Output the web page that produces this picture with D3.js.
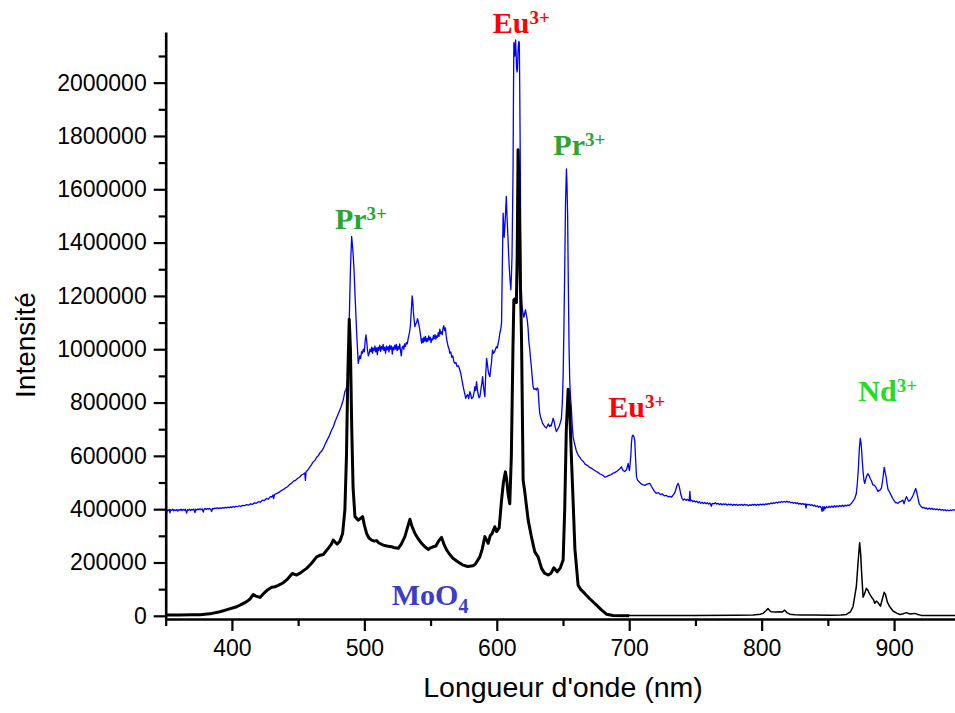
<!DOCTYPE html>
<html><head><meta charset="utf-8">
<script src="https://cdn.jsdelivr.net/npm/d3@7/dist/d3.min.js"></script>
<style>body{margin:0;background:#fff}svg{display:block}</style>
</head><body>
<svg id="chart" width="955" height="713"></svg>
<script>
// ---------- data (wavelength nm, intensity) ----------
const blueSpectrum = [[350,398000],[350.6,384000],[351.2,397000],[352,395000],[352.8,399000],[353.2,386000],[353.7,398000],[354.5,396000],[355.3,400000],[356,394000],[356.8,398000],[357.6,395000],[358.4,399000],[359.2,393000],[360,398000],[360.8,396000],[361.6,400000],[362.4,395000],[363.2,399000],[364,396000],[364.8,400000],[365.8,385000],[366.4,398000],[367.2,396000],[368,400000],[368.8,395000],[369.6,399000],[370.4,397000],[371.2,401000],[372.1,387000],[372.7,400000],[373.5,397000],[374.3,401000],[375.1,398000],[375.9,402000],[376.7,398000],[377.5,401000],[378.4,389000],[379,400000],[379.8,403000],[380.6,399000],[381.4,402000],[382.2,400000],[383,403000],[383.8,400000],[384.7,391000],[385.3,403000],[386.2,401000],[387,404000],[388,402000],[389,405000],[390,402000],[391,405000],[392,403000],[393,406000],[394,404000],[395,407000],[396,405000],[397,408000],[398,405000],[399,409000],[400,406000],[401,410000],[402,407000],[403,411000],[404,409000],[405.5,413000],[406.5,410000],[408,414000],[409.5,413000],[411,417000],[412.5,415000],[414,420000],[415.5,418000],[417,424000],[418.5,422000],[420,428000],[421.5,426000],[423,434000],[424.5,432000],[426,440000],[427.5,438000],[429,447000],[430,445000],[431,453000],[431.5,440000],[432.1,455000],[433,457000],[434.5,460000],[436,465000],[437.5,470000],[439,474000],[440.5,480000],[442,484000],[443.5,492000],[445,497000],[446.5,505000],[448,508000],[449.5,515000],[451,520000],[452.5,528000],[454,532000],[455,536000],[455.5,508000],[456,540000],[457,545000],[458.5,556000],[460,566000],[461.4,578000],[462.8,584000],[464,595000],[465.2,600000],[466.5,612000],[467.8,618000],[469,628000],[470.5,645000],[472,660000],[473.5,675000],[475.3,697000],[476.5,708000],[478,730000],[479.7,750000],[481.5,772000],[482.5,785000],[483.5,800000],[484.5,820000],[485.3,841000],[486.2,850000],[487,870000],[487.8,900000],[488.6,1110000],[489.5,1300000],[490.4,1423000],[491.2,1380000],[492.1,1310000],[493,1200000],[494.2,1061000],[495.4,947000],[496.5,975000],[497.2,965000],[497.9,991000],[498.6,985000],[499.2,1000000],[500,990000],[500.6,1030000],[501.2,1054000],[501.8,1030000],[502.3,1000000],[503,975000],[503.7,985000],[504.3,1000000],[505,990000],[505.6,1008000],[506.2,985000],[506.7,1004000],[507.3,995000],[508,1012000],[508.6,990000],[509.2,1005000],[509.8,980000],[510.4,1008000],[511,996000],[511.7,1015000],[512.3,992000],[513,1010000],[513.6,1000000],[514.2,1018000],[514.8,995000],[515.4,1008000],[516,985000],[516.7,1012000],[517.3,998000],[518,1010000],[518.6,990000],[519.2,1015000],[519.8,1000000],[520.5,1012000],[521.1,982000],[521.7,1008000],[522.3,998000],[523,1015000],[523.6,1000000],[524.2,1018000],[524.8,995000],[525.5,1010000],[526.1,1000000],[526.7,1020000],[527.3,995000],[527.9,975000],[528.5,1005000],[529.2,1012000],[529.8,1000000],[530.4,1020000],[531,1010000],[531.7,1025000],[532.4,1020000],[533.1,1040000],[534,1060000],[534.8,1090000],[535.5,1150000],[536.1,1200000],[536.6,1180000],[537,1140000],[537.6,1110000],[538.2,1085000],[538.8,1095000],[539.5,1100000],[540.1,1115000],[540.7,1105000],[541.2,1090000],[541.8,1075000],[542.5,1050000],[543.2,1023000],[543.8,1040000],[544.4,1025000],[545,1045000],[545.6,1030000],[546.2,1048000],[546.8,1028000],[547.4,1040000],[548,1030000],[548.6,1050000],[549.2,1035000],[549.8,1045000],[550.4,1025000],[551,1040000],[551.6,1035000],[552.2,1052000],[552.8,1040000],[553.4,1055000],[554,1038000],[554.6,1050000],[555.2,1045000],[555.8,1062000],[556.4,1048000],[557,1075000],[557.6,1058000],[558.2,1065000],[558.8,1055000],[559.4,1080000],[560,1088000],[560.6,1070000],[561.2,1080000],[561.8,1050000],[562.4,1030000],[563.3,1010000],[564,1000000],[564.5,985000],[565.2,990000],[566,970000],[566.8,975000],[567.5,955000],[568.3,947000],[569.2,950000],[570,935000],[571,938000],[572.1,922000],[572.8,910000],[573.5,890000],[574.1,875000],[574.6,860000],[575.5,840000],[576.6,816000],[577.2,825000],[578,830000],[578.8,815000],[579.7,841000],[580.4,830000],[581,815000],[581.6,818000],[582.2,822000],[582.9,840000],[583.5,860000],[584.1,845000],[584.7,878000],[585.3,850000],[586,830000],[586.6,818000],[587.2,822000],[587.8,840000],[588.3,860000],[588.8,875000],[589.3,897000],[589.8,870000],[590.2,850000],[590.6,835000],[591,822000],[591.6,900000],[592.3,966000],[592.9,945000],[593.5,920000],[594.1,905000],[594.8,897000],[595.4,925000],[596,950000],[596.4,975000],[596.8,997000],[597.5,985000],[598.3,990000],[599,1000000],[599.8,1010000],[600.4,1005000],[601,1020000],[601.6,1035000],[602.3,1060000],[603,1075000],[603.6,1100000],[604,1250000],[604.3,1350000],[604.8,1510000],[605.2,1460000],[605.6,1420000],[606.3,1480000],[606.8,1530000],[607.2,1573000],[607.7,1500000],[608.3,1435000],[609,1350000],[609.5,1300000],[610,1260000],[610.6,1223000],[611.1,1280000],[611.5,1350000],[612,1550000],[612.3,1685000],[612.6,1950000],[612.9,2150000],[613.2,2130000],[613.6,2100000],[613.9,2140000],[614.2,2160000],[614.6,2110000],[614.9,2060000],[615.3,2040000],[615.6,2050000],[616,2110000],[616.3,2140000],[616.7,2155000],[617,2150000],[617.3,2000000],[617.6,1800000],[618,1500000],[618.4,1250000],[618.9,1170000],[619.4,1148000],[620,1130000],[620.5,1120000],[621.1,1135000],[621.7,1148000],[622.3,1130000],[623,1110000],[623.6,1080000],[624.2,1030000],[624.9,1000000],[625.4,970000],[626,940000],[626.7,900000],[627.4,860000],[628.1,850000],[629,852000],[629.9,847000],[630.5,855000],[631.2,850000],[631.8,800000],[632.4,760000],[633.1,745000],[633.8,735000],[634.6,722000],[635.5,715000],[636.5,708000],[637.5,705000],[638.2,712000],[639,720000],[639.8,710000],[640.5,715000],[641,712000],[641.8,725000],[642.5,741000],[643,735000],[643.5,725000],[644.2,705000],[645,691000],[645.7,698000],[646.5,705000],[647.2,712000],[648,725000],[648.8,740000],[649.5,800000],[650.1,900000],[650.7,1080000],[651.3,1300000],[651.9,1550000],[652.6,1676000],[653,1620000],[653.5,1500000],[654,1250000],[654.6,1000000],[655.1,880000],[655.7,820000],[656.3,780000],[656.9,720000],[657.6,672000],[658.3,655000],[659,640000],[660,620000],[661.4,603000],[662.6,595000],[664,585000],[665.5,578000],[666.5,570000],[667.7,566000],[669,562000],[670,557000],[671,555000],[672.5,550000],[674,545000],[675.2,541000],[676.5,538000],[678,532000],[679,530000],[680.5,526000],[681.5,520000],[682.8,522000],[684,525000],[685.3,528000],[686.5,530000],[687.8,535000],[689,537000],[690,540000],[691,543000],[692,548000],[693,552000],[694.1,559000],[694.7,552000],[695.3,545000],[696,543000],[696.6,541000],[697.3,545000],[698,548000],[698.6,560000],[699.2,572000],[699.7,555000],[700.2,545000],[700.7,570000],[701.2,600000],[701.7,650000],[702.2,672000],[702.8,678000],[703.3,675000],[703.8,668000],[704.2,655000],[704.8,590000],[705.5,522000],[706.2,510000],[707,505000],[708,500000],[709,495000],[710.5,491000],[711.8,489000],[713,493000],[714.2,495000],[715.5,497000],[716.8,485000],[718,475000],[719.3,465000],[720.6,459000],[722,462000],[723.5,455000],[725,457000],[726.5,450000],[728,452000],[729.5,446000],[730.6,448000],[732,445000],[733,452000],[734,458000],[735,470000],[735.8,485000],[736.9,497000],[737.6,488000],[738.2,475000],[739,455000],[740,440000],[740.7,434000],[741.8,438000],[743,433000],[744,437000],[745.3,431000],[745.8,467000],[746.3,431000],[747.2,434000],[748,428000],[749,432000],[750,427000],[751,430000],[752,424000],[753,428000],[754,422000],[755,426000],[756,421000],[757,425000],[758,420000],[759,424000],[760,419000],[761,423000],[762,411000],[762.7,422000],[764,420000],[765,424000],[766,419000],[767,422000],[768,417000],[769,421000],[770,416000],[771,420000],[772,417000],[773,420000],[774,415000],[775,419000],[776,416000],[777,419000],[778,414000],[779,418000],[780,415000],[781,418000],[782,414000],[783,417000],[784,415000],[785,418000],[786,414000],[787,418000],[788,415000],[789,417000],[790,413000],[791,417000],[792,414000],[793,418000],[794,415000],[795,418000],[796,414000],[797,418000],[798,415000],[799,419000],[800,416000],[801,419000],[802,416000],[803,420000],[804,418000],[805,421000],[806,419000],[807,423000],[808,421000],[809,424000],[810,422000],[811,426000],[812,423000],[813,427000],[814,425000],[815,429000],[816,426000],[817,429000],[818,426000],[819,430000],[820,426000],[821,428000],[822,424000],[823,426000],[824,422000],[825,425000],[826,421000],[827,424000],[828,419000],[829,422000],[830,418000],[831,421000],[832,418000],[833,420000],[833.5,404000],[834,419000],[835,416000],[836,418000],[837,414000],[838,417000],[839,412000],[840,415000],[841,410000],[842,413000],[843,407000],[844,411000],[845,405000],[845.6,392000],[846.2,410000],[846.8,395000],[847.4,409000],[848,402000],[849,410000],[850,405000],[851,411000],[852,406000],[853,412000],[854,407000],[855,413000],[856,408000],[857,413000],[858,409000],[859,414000],[860,410000],[861,415000],[862,410000],[863,415000],[864,412000],[865,416000],[866,413000],[866.5,416000],[867.5,420000],[869,430000],[870.3,440000],[871.5,459000],[872.3,500000],[873,550000],[873.8,630000],[874.5,666000],[875,650000],[875.5,620000],[876,580000],[876.6,540000],[877.2,510000],[877.8,497000],[878.4,508000],[879,520000],[879.6,528000],[880.3,533000],[881.2,525000],[882,515000],[883,505000],[884,491000],[885,490000],[886,485000],[887,475000],[887.8,466000],[888.4,470000],[889,470000],[889.8,474000],[890.5,480000],[891.1,500000],[891.7,520000],[892.2,545000],[892.6,557000],[893.2,540000],[894,520000],[894.7,495000],[895.4,474000],[896.2,468000],[897,460000],[898,450000],[899,440000],[900,432000],[901,425000],[902,424000],[902.9,422000],[904,427000],[905,428000],[905.8,431000],[906.7,434000],[907.5,420000],[908.4,435000],[909.3,447000],[910.2,438000],[911,430000],[912,433000],[913,440000],[914,448000],[915,460000],[915.7,470000],[916.3,478000],[916.9,468000],[917.5,455000],[918.2,438000],[919,420000],[919.8,414000],[920.6,409000],[921.5,405000],[922.5,407000],[923.5,402000],[924.5,405000],[925.5,400000],[926.5,404000],[927.5,400000],[928.5,403000],[929.5,399000],[930.5,402000],[931.5,398000],[932.5,401000],[933.5,397000],[934.5,400000],[935.5,396000],[936.5,399000],[937.5,395000],[938.5,398000],[939.5,394000],[940.5,397000],[941.5,394000],[942.5,397000],[943.5,395000],[944.5,398000],[946,396000]];

const blackVisSpectrum = [[350,3000],[360,3000],[370,3500],[376,4000],[385,9000],[391,15000],[397,24000],[403.6,34000],[408,45000],[411.1,53000],[413.5,62000],[416.1,80000],[418,74000],[421.2,69000],[424,84000],[427.4,99000],[430,107000],[432.5,109000],[435,114000],[438.8,124000],[442,138000],[445.6,159000],[447,156000],[448.9,153000],[452,162000],[456.4,178000],[460,196000],[464,221000],[466,226000],[469,230000],[472.7,253000],[475,268000],[476.5,284000],[478,276000],[479.5,269000],[481.5,280000],[483.6,309000],[485.3,397000],[486.5,600000],[487.5,900000],[488.6,1112000],[489.5,1000000],[490.5,700000],[491.5,480000],[492.9,372000],[495.4,359000],[497,365000],[498.7,372000],[500,340000],[501.7,309000],[503.5,292000],[505.5,284000],[507.5,280000],[509.2,282000],[511,273000],[514.3,265000],[517,262000],[520.6,259000],[523,255000],[525.6,253000],[528,270000],[530.6,297000],[532.5,330000],[534.4,362000],[536,335000],[538.2,309000],[540.5,290000],[543.2,272000],[545.5,260000],[548.2,249000],[550,255000],[552,259000],[554,262000],[556,280000],[558.3,294000],[560,270000],[562.1,247000],[564.5,230000],[567.1,215000],[570,205000],[574.6,190000],[578,185000],[582.2,188000],[584,195000],[587.2,221000],[589,250000],[591,297000],[593.5,272000],[595,300000],[596.5,309000],[598.5,334000],[599.8,316000],[601.8,330000],[603.6,434000],[605,500000],[606.5,540000],[607.5,510000],[608.5,460000],[609.8,420000],[611,600000],[612.2,1000000],[612.9,1185000],[614,1190000],[614.8,1175000],[615.4,1350000],[616.1,1748000],[616.8,1600000],[617.6,1300000],[618.7,1035000],[619.9,509000],[621,470000],[623.7,359000],[626,300000],[628.7,240000],[631.2,221000],[633.8,178000],[636,160000],[638.8,153000],[641,160000],[643.1,180000],[645.6,165000],[648,180000],[650.1,209000],[651.3,400000],[652.5,700000],[653.9,850000],[655,780000],[656.3,600000],[657.6,434000],[659,250000],[661.4,115000],[663.5,98000],[666.4,84000],[670,65000],[675.3,40000],[679,22000],[682.8,6000],[687.8,1000],[700,0]];

const blackNirSpectrum = [[690,0],[700,1000],[720,1500],[750,1500],[780,2000],[793.5,3000],[799,6000],[801,9000],[803,18000],[804.8,27000],[806,20000],[807.3,15000],[810,14000],[813.6,15000],[815.5,14000],[817.4,21000],[819,12000],[821.2,6000],[825,4000],[830,3000],[840,3000],[851.4,2000],[860,3000],[864,5000],[867,15000],[869,34000],[871.5,109000],[872.8,200000],[874,274000],[874.8,230000],[875.5,160000],[876.6,70000],[877.5,80000],[879.1,103000],[880.3,95000],[881.6,81000],[883,70000],[884.5,60000],[885.4,47000],[886.6,55000],[887.8,50000],[889.7,36000],[891,60000],[892.5,88000],[893.5,80000],[895,50000],[896.5,36000],[899.2,18000],[902,10000],[904.3,5000],[907,8000],[909.3,12000],[912,7000],[915.5,9000],[918,5000],[920.6,1500],[930,1000],[946,1000]];

const xMajorTicks = [400, 500, 600, 700, 800, 900];
const xMinorTicks = [350, 450, 550, 650, 750, 850];
const yMajorTicks = [0, 200000, 400000, 600000, 800000, 1000000, 1200000, 1400000, 1600000, 1800000, 2000000];
const yMinorTicks = [100000, 300000, 500000, 700000, 900000, 1100000, 1300000, 1500000, 1700000, 1900000, 2100000];

// annotations: label text, superscript/subscript, anchor in data units (wavelength, intensity)
const annotations = [
  {main: "Pr", sup: "3+", wl: 477.8, val: 1452000, color: "#2ca52f"},
  {main: "Eu", sup: "3+", wl: 596.9, val: 2186000, color: "#ff0000"},
  {main: "Pr", sup: "3+", wl: 642.7, val: 1730000, color: "#2ca52f"},
  {main: "Eu", sup: "3+", wl: 684.2, val: 747000, color: "#ff0000"},
  {main: "Nd", sup: "3+", wl: 873.0, val: 804000, color: "#22dd22"},
  {main: "MoO", sub: "4", wl: 520.7, val: 40500, color: "#3c3cc8"}
];

const xTitle = "Longueur d'onde (nm)";
const yTitle = "Intensité";

// ---------- drawing ----------
const svg = d3.select("#chart");
const x = d3.scaleLinear().domain([350, 946]).range([165.7, 955]);
const y = d3.scaleLinear().domain([-12000, 2190000]).range([619, 32]);

const line = d3.line().x(d => x(d[0])).y(d => y(d[1]));

svg.append("path").datum(blueSpectrum).attr("d", line)
  .attr("fill", "none").attr("stroke", "#0000ff").attr("stroke-width", 1.3).attr("stroke-linejoin", "round");
svg.append("path").datum(blackNirSpectrum).attr("d", line)
  .attr("fill", "none").attr("stroke", "#000").attr("stroke-width", 1.5).attr("stroke-linejoin", "round");
svg.append("path").datum(blackVisSpectrum).attr("d", line)
  .attr("fill", "none").attr("stroke", "#000").attr("stroke-width", 3).attr("stroke-linejoin", "round");

const tickFont = "'Liberation Sans', Arial, sans-serif";

// x axis
const gx = svg.append("g").attr("transform", `translate(0,${y.range()[0]})`);
gx.append("g").call(d3.axisBottom(x).tickValues(xMinorTicks).tickSize(7).tickFormat("").tickSizeOuter(0))
  .call(g => g.select(".domain").remove());
gx.append("g").call(d3.axisBottom(x).tickValues(xMajorTicks).tickSize(12).tickPadding(9).tickSizeOuter(0).tickFormat(d3.format("d")));
gx.selectAll("line").attr("stroke-width", 2.2);
gx.selectAll(".domain").attr("stroke-width", 2.6);
gx.selectAll("text").attr("font-family", tickFont).attr("font-size", 23).attr("fill", "#000");

// y axis
const gy = svg.append("g").attr("transform", `translate(${x.range()[0]},0)`);
gy.append("g").call(d3.axisLeft(y).tickValues(yMinorTicks).tickSize(7).tickFormat("").tickSizeOuter(0))
  .call(g => g.select(".domain").remove());
gy.append("g").call(d3.axisLeft(y).tickValues(yMajorTicks).tickSize(12).tickPadding(7).tickSizeOuter(0).tickFormat(d3.format("d")));
gy.selectAll("line").attr("stroke-width", 2.2);
gy.selectAll(".domain").attr("stroke-width", 2.6);
gy.selectAll("text").attr("font-family", tickFont).attr("font-size", 23).attr("fill", "#000");

// axis titles
svg.append("text").attr("x", 563).attr("y", 697).attr("text-anchor", "middle")
  .attr("font-family", tickFont).attr("font-size", 28.5).text(xTitle);
svg.append("text").attr("transform", "translate(35,345) rotate(-90)").attr("text-anchor", "middle")
  .attr("font-family", tickFont).attr("font-size", 28).text(yTitle);

// annotations
annotations.forEach(a => {
  const t = svg.append("text").attr("x", x(a.wl)).attr("y", y(a.val))
    .attr("font-family", "'Liberation Serif', 'Times New Roman', serif").attr("font-weight", "bold")
    .attr("font-size", 30).attr("fill", a.color);
  t.append("tspan").text(a.main);
  if (a.sup) t.append("tspan").attr("font-size", 19).attr("dy", -9).text(a.sup);
  if (a.sub) t.append("tspan").attr("font-size", 20).attr("dy", 8).text(a.sub);
});
</script>
</body></html>
